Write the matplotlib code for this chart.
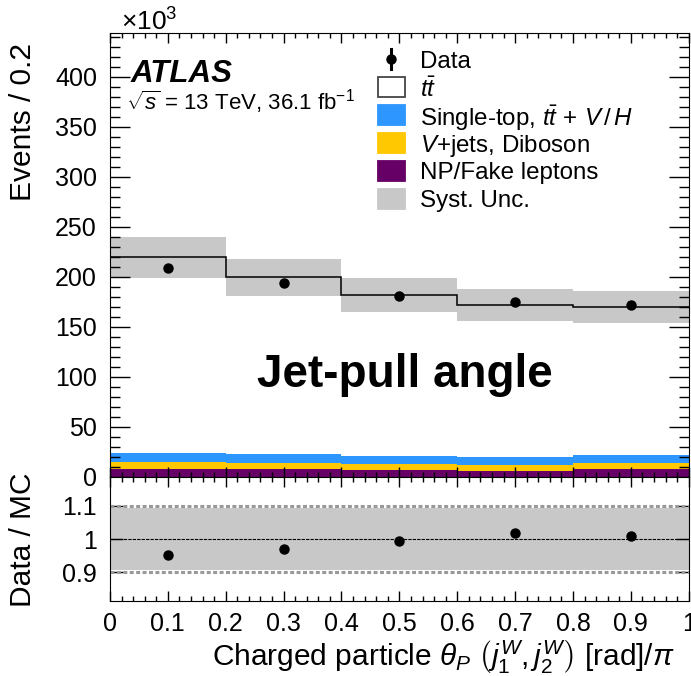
import numpy as np
import matplotlib
matplotlib.use("Agg")
import matplotlib.pyplot as plt
from matplotlib.patches import Rectangle
from matplotlib.lines import Line2D
from matplotlib.ticker import MultipleLocator, FixedLocator, FuncFormatter

# Binning in theta_P / pi
edges = np.array([0.0, 0.2, 0.4, 0.6, 0.8, 1.0])
centres = 0.5 * (edges[:-1] + edges[1:])

# Event yields in units of 10^3 per bin
fakes = np.array([7.4, 7.4, 6.7, 6.0, 8.0])
vjets = np.array([7.3, 6.3, 6.0, 5.7, 5.4])
single_top = np.array([9.3, 9.3, 8.0, 7.7, 8.0])
ttbar = np.array([195.4, 176.4, 160.8, 152.3, 148.6])
data = np.array([209.0, 193.4, 180.6, 174.6, 171.4])
syst_rel = np.array([0.093, 0.093, 0.093, 0.093, 0.094])

c_blue = "#2d96ff"
c_yellow = "#ffc800"
c_purple = "#660066"
c_syst = "#c8c8c8"

plt.rcParams.update({
    "font.family": ["Liberation Sans", "DejaVu Sans"],
    "mathtext.fontset": "custom",
    "mathtext.rm": "Liberation Sans",
    "mathtext.it": "Liberation Sans:italic",
    "mathtext.bf": "Liberation Sans:bold",
})

W, H = 691, 676
fig = plt.figure(figsize=(W / 100, H / 100), dpi=100)
ax = fig.add_axes([0.15919, 0.29482, 0.8375, 0.65680])
rax = fig.add_axes([0.15919, 0.11050, 0.8375, 0.18432], sharex=ax)


def fx(px):
    return px / W


def fy(py):
    return 1 - py / H


# stacked backgrounds
lvl1 = fakes
lvl2 = lvl1 + vjets
lvl3 = lvl2 + single_top
total = lvl3 + ttbar
ax.stairs(lvl1, edges, baseline=0, fill=True, color=c_purple, lw=0)
ax.stairs(lvl2, edges, baseline=lvl1, fill=True, color=c_yellow, lw=0)
ax.stairs(lvl3, edges, baseline=lvl2, fill=True, color=c_blue, lw=0)
ax.stairs(total, edges, baseline=lvl3, fill=True, color="white", lw=0)

# systematic band and total prediction
ax.stairs(total * (1 + syst_rel), edges, baseline=total * (1 - syst_rel),
          fill=True, color=c_syst, lw=0)
ax.stairs(total, edges, baseline=None, color="black", lw=1.1)

stat = np.sqrt(data * 1e3) / 1e3
ax.errorbar(centres, data, yerr=stat, fmt="o", color="black",
            markersize=6.5, elinewidth=2, capsize=0)

ax.set_xlim(0, 1)
ax.set_ylim(0, 444)

tick_kw = dict(direction="in", top=True, right=True, which="both")
ax.tick_params(**tick_kw)
ax.tick_params(axis="y", which="major", length=14.4, width=1, labelsize=18, pad=9.4)
ax.tick_params(axis="y", which="minor", length=7.2, width=1)
ax.tick_params(axis="x", which="major", length=7.2, width=1, labelbottom=False)
ax.tick_params(axis="x", which="minor", length=3.6, width=1)
ax.xaxis.set_major_locator(MultipleLocator(0.1))
ax.xaxis.set_minor_locator(MultipleLocator(0.02))
ax.yaxis.set_major_locator(MultipleLocator(50))
ax.yaxis.set_minor_locator(MultipleLocator(10))

# legend, one row every ~28 px
labels = ["Data", r"$t\bar{t}$", r"Single-top, $t\bar{t}\,+\,V\,/\,H$",
          r"$V$+jets, Diboson", "NP/Fake leptons", "Syst. Unc."]
box_colors = [None, "white", c_blue, c_yellow, c_purple, c_syst]
row_y = 59
for lab, col in zip(labels, box_colors):
    if col is None:
        fig.add_artist(Line2D([fx(391), fx(391)], [fy(row_y - 10), fy(row_y + 10)],
                              color="black", lw=2.2, transform=fig.transFigure))
        fig.add_artist(Line2D([fx(391)], [fy(row_y)], marker="o", color="black",
                              markersize=6.5, transform=fig.transFigure))
    else:
        edge = "#444444" if col == "white" else col
        fig.add_artist(Rectangle((fx(378), fy(row_y + 10)), fx(27), 20 / H,
                                 facecolor=col, edgecolor=edge, lw=1.3,
                                 transform=fig.transFigure))
    fig.text(fx(420.5), fy(row_y), lab, fontsize=17.4, ha="left", va="center_baseline")
    row_y += 27.9

ax.text(0.035, 0.889, "ATLAS", transform=ax.transAxes, fontsize=22.5,
        fontweight="bold", fontstyle="italic", va="baseline")
ax.text(0.028, 0.826, r"$\sqrt{s}$ = 13 TeV, 36.1 fb$^{-1}$", transform=ax.transAxes,
        fontsize=16, va="baseline")
ax.text(0.51, 90, "Jet-pull angle", fontsize=33, fontweight="bold",
        ha="center", va="baseline")

fig.text(fx(121), fy(22), r"$\times10^{3}$", fontsize=19, ha="left", va="center")

# ratio panel
ratio = data / total
rax.stairs(1 + syst_rel, edges, baseline=1 - syst_rel, fill=True, color=c_syst, lw=0)
rax.axhline(1.1, color="#999999", lw=2.2, ls=(0, (1.3, 0.8)))
rax.axhline(0.9, color="#999999", lw=2.2, ls=(0, (1.3, 0.8)))
rax.axhline(1.0, color="black", lw=0.8, ls=(0, (3, 1)))
rax.errorbar(centres, ratio, yerr=stat / total, fmt="o", color="black",
             markersize=6.5, elinewidth=2, capsize=0)
rax.set_ylim(0.814, 1.186)
rax.tick_params(**tick_kw)
rax.tick_params(axis="y", which="major", length=9.4, width=1, labelsize=18, pad=9.4)
rax.tick_params(axis="y", which="minor", length=0)
rax.tick_params(axis="x", which="major", length=7.2, width=1, labelsize=18, pad=8)
rax.tick_params(axis="x", which="minor", length=3.6, width=1)
rax.yaxis.set_major_locator(FixedLocator([0.9, 1.0, 1.1]))
rax.yaxis.set_major_formatter(FuncFormatter(lambda v, p: f"{v:g}"))
rax.xaxis.set_major_formatter(FuncFormatter(lambda v, p: f"{v:g}"))

fig.text(0.033, fy(43), "Events / 0.2", rotation=90, fontsize=21.5,
         ha="center", va="top")
fig.text(0.033, fy(540), "Data / MC", rotation=90, fontsize=21.5,
         ha="center", va="center")
fig.text(fx(675), fy(666),
         r"Charged particle $\theta_P\ \left(j_1^W, j_2^W\right)$ [rad]$/\pi$",
         fontsize=21.5, ha="right", va="baseline")

fig.savefig("out.png", dpi=100)
